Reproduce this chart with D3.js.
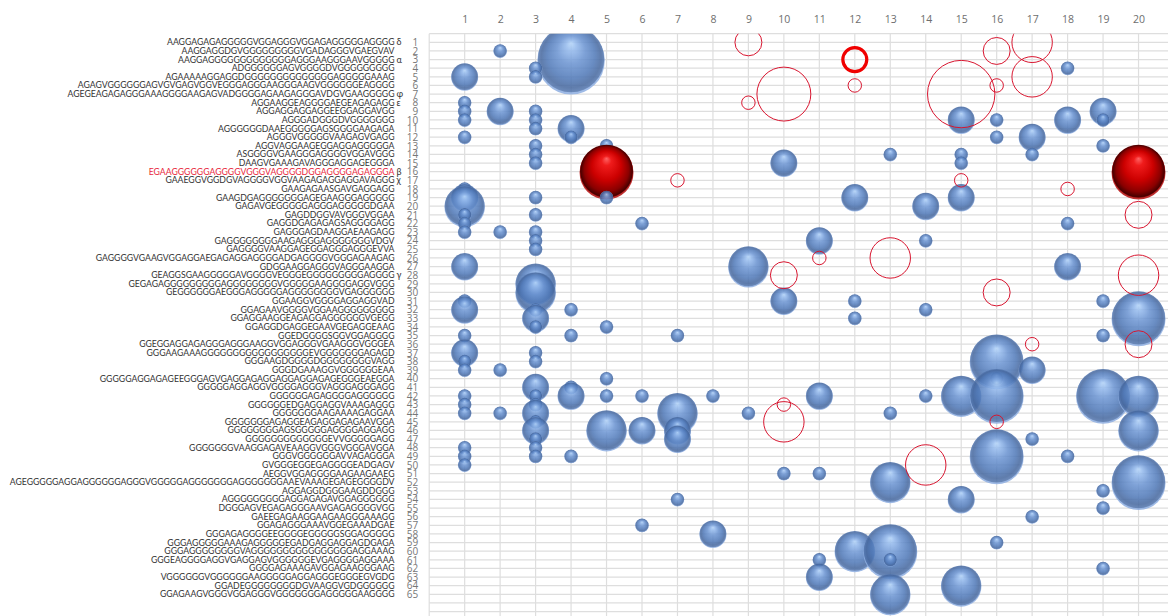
<!DOCTYPE html>
<html>
<head>
<meta charset="utf-8">
<script src="https://cdn.jsdelivr.net/npm/d3@7"></script>
<style>
	html, body { margin: 0; padding: 0; background: #fff; overflow: hidden; }
	text { font-family: Lato, "Open Sans", sans-serif; }
	.axis path, .axis line { display: none; }
	.axis text { fill: #6e6e6e; font-size: 10.5px; font-family: "Open Sans", sans-serif; }
	.axis.rows text { font-size: 10px; fill: #777; }
	.grid line { stroke: #dedede; stroke-width: 1.2; }
</style>
</head>
<body>
<svg width="1168" height="616"></svg>
<script>
var columns = d3.range(1, 21);

var sequences = [
	"AAGGAGAGAGGGGGVGGAGGGVGGAGAGGGGGAGGGG", "AAGGAGGDGVGGGGGGGGGVGADAGGGVGAEGVAV",
	"AAGGAGGGGGGGGGGGGGAGGGAAGGGAAVGGGGG", "ADGGGGGGAGVGGGGDVGGGGGGGGG",
	"AGAAAAAGGAGGDGGGGGGGGGGGGGGAGGGGGAAAG", "AGAGVGGGGGGAGVGVGAGVGGVEGGGAGGGAAGGGAAGVGGGGGGEAGGGG",
	"AGEGEAGAGAGGGAAAGGGGAAGAGVADGGGGAGAAGAGGGAVDGVGAAGGGGG", "AGGAAGGEAGGGGAEGEAGAGAGG",
	"AGGAGGAGGAGGEEGGAGGAVGG", "AGGGADGGGDVGGGGGGG",
	"AGGGGGGDAAEGGGGGAGSGGGGAAGAGA", "AGGGVGGGGGVAAGAGVGAGG",
	"AGGVAGGAAGEGGAGGAGGGGGA", "ASGGGGVGAAGGGAGGGGVGGAVGGG",
	"DAAGVGAAAGAVAGGGAGGAGEGGGA", "EGAAGGGGGGAGGGGVGGGVAGGGGDGGAGGGGAGAGGGA",
	"GAAEGGVGGDGVAGGGGVGGVAAGAGAGGAGGAVAGGG", "GAAGAGAASGAVGAGGAGG",
	"GAAGDGAGGGGGGGAGEGAAGGGAGGGGG", "GAGAVGEGGGGGAGGGAGGGGGDGAA",
	"GAGDDGGVAVGGGVGGAA", "GAGGDGAGAGAGSAGGGGAGG",
	"GAGGGAGDAAGGAEAAGAGG", "GAGGGGGGGGAAGAGGGAGGGGGGGVDGV",
	"GAGGGGVAAGGAGEGGAGGGAGGGEVVA", "GAGGGGVGAAGVGGAGGAEGAGAGGAGGGGADGAGGGGVGGGAGAAGAG",
	"GDGGAAGGAGGGVAGGGAAGGA", "GEAGGSGAAGGGGGAVGGGGVEGGGEGGGGGGGGGAGGGG",
	"GEGAGAGGGGGGGGGAGGGGGGGGVGGGGGAAGGGGAGGVGGG", "GEGGGGGGAEGGGAGGGGGAGGGGGGGGVGAGGGGGG",
	"GGAAGGVGGGGAGGAGGVAD", "GGAGAAVGGGGVGGAAGGGGGGGGG",
	"GGAGGAAGGEAGAGGAGGGGGGVGEGG", "GGAGGDGAGGEGAAVGEGAGGEAAG",
	"GGEDGGGGSGGVGGAGGGG", "GGEGGAGGAGAGGGAGGGAAGGVGGAGGGVGAAGGGVGGGEA",
	"GGGAAGAAAGGGGGGGGGGGGGGGGGEVGGGGGGGAGAGD", "GGGAAGDGGGGDGGGGGGGGVAGG",
	"GGGDGAAAGGVGGGGGGEAA", "GGGGGAGGAGAGEEGGGAGVGAGGAGAGGAGGAGGAGAGEGGGEAEGGA",
	"GGGGGAGGAGGVGGGGAGGGVAGGGAGGGAGG", "GGGGGGAGAGGGGAGGGGGG",
	"GGGGGGEDGAGGAGGVAAAGAGGG", "GGGGGGGAAGAAAAGAGGAA",
	"GGGGGGGAGAGGEAGAGGAGAGAAVGGA", "GGGGGGGGAGSGGGGGAGGGGAGGAGG",
	"GGGGGGGGGGGGGEVVGGGGGAGG", "GGGGGGGVAAGGAGAVEAAGGVGGGVGGGAVGGA",
	"GGGVGGGGGGAVVAGAGGGA", "GVGGGEGGEGAGGGGEADGAGV",
	"AEGGVGGAGGGGAAGAAGAAEG", "AGEGGGGGAGGAGGGGGGAGGGVGGGGGAGGGGGGGAGGGGGGGAAEVAAAGEGAGEGGGGDV",
	"AGGAGGDGGGAAGDDGGG", "AGGGGGGGGGAGGAGAGAVGGAGGGGGG",
	"DGGGAGVEGAGAGGGAAVGAGAGGGGVGG", "GAEEGAGAAGGAAGAAGGGAAAGG",
	"GGAGAGGGAAAVGGEGAAADGAE", "GGGAGAGGGGEEGGGGEGGGGGSGGAGGGGG",
	"GGGAGGGGGAAAGAGGGGGEGADGAGGAGGAGDGAGA", "GGGAGGGGGGGGVAGGGGGGGGGGGGGGGGAGGAAAG",
	"GGGEAGGGGAGGVGAGGAGVGGGGGGEVGAGGGGAGGAAA", "GGGGAGAAAGAVGGAGAAGGGAAG",
	"VGGGGGGVGGGGGGAAGGGGGAGGAGGGEGGGEGVGDG", "GGADEGGGGGGGGDGVAAGGVGDGGGGGG",
	"GGAGAAGVGGGVGGAGGGVGGGGGGGAGGGGGAAGGGG"
];

// row number -> greek letter shown next to the sequence
var greekRows = [1, 3, 7, 8, 16, 17, 28];
var greekLetters = ["δ", "α", "φ", "ε", "β", "χ", "γ"];
var highlightRow = 16;

// [column, row, value]
var blueBubbles = [
	[1,5,4],[1,8,1],[1,9,1],[1,10,1],[1,12,1],[1,18,1],[1,19,4],[1,20,9],[1,21,1],[1,22,1],[1,23,1],
	[1,27,4],[1,31,1],[1,32,4],[1,35,1],[1,37,4],[1,38,1],[1,39,1],[1,42,1],[1,43,1],[1,44,1],
	[1,48,1],[1,49,1],[1,50,1],
	[2,2,1],[2,9,4],[2,23,1],[2,39,1],[2,44,1],
	[3,4,1],[3,5,1],[3,9,1],[3,10,1],[3,11,1],[3,13,1],[3,14,1],[3,15,1],[3,19,1],[3,21,1],[3,23,1],
	[3,24,1],[3,25,1],[3,29,9],[3,30,9],[3,32,1],[3,33,4],[3,34,1],[3,37,1],[3,38,1],[3,41,4],[3,42,1],
	[3,43,1],[3,44,4],[3,45,1],[3,46,4],[3,47,1],[3,48,1],[3,49,1],
	[4,3,25],[4,11,4],[4,12,1],[4,32,1],[4,35,1],[4,41,1],[4,42,4],[4,49,1],
	[5,13,1],[5,19,1],[5,34,1],[5,40,1],[5,42,1],[5,46,9],
	[6,22,1],[6,42,1],[6,46,4],[6,57,1],
	[7,35,1],[7,44,9],[7,46,4],[7,47,4],[7,54,1],
	[8,42,1],[8,58,4],
	[9,27,9],[9,44,1],
	[10,15,4],[10,31,4],[10,51,1],
	[11,24,4],[11,42,4],[11,51,1],[11,61,1],[11,63,4],
	[12,19,4],[12,31,1],[12,33,1],[12,60,9],
	[13,14,1],[13,44,1],[13,52,9],[13,60,16],[13,61,1],[13,65,9],
	[14,20,4],[14,24,1],[14,32,1],[14,42,1],
	[15,10,4],[15,14,1],[15,15,1],[15,19,4],[15,42,9],[15,54,4],[15,64,9],
	[16,10,1],[16,12,1],[16,38,16],[16,40,1],[16,42,16],[16,49,16],[16,59,1],
	[17,12,4],[17,14,1],[17,39,4],[17,47,1],[17,56,1],
	[18,4,1],[18,10,4],[18,22,1],[18,27,4],[18,49,1],
	[19,9,4],[19,10,1],[19,13,1],[19,31,1],[19,35,1],[19,42,16],[19,53,1],[19,55,1],[19,62,1],
	[20,33,16],[20,42,9],[20,46,9],[20,52,16]
];

var redBalls = [[5,16,16],[20,16,16]];

var redRings = [
	[7,17,1],[9,1,4],[9,8,1],[10,7,16],[10,28,4],[10,43,1],[10,45,9],[11,26,1],
	[12,6,1],[13,26,9],[14,50,9],[15,7,25],[15,17,1],[16,2,4],[16,6,1],[16,30,4],[16,45,1],
	[17,1,9],[17,5,9],[17,36,1],[18,18,1],[20,21,4],[20,28,9],[20,36,4]
];
var heavyRings = [[12,3,4]];

(function(){

	var svg = d3.select("svg"),
		defs = svg.append("defs");

	var x = d3.scaleLinear().domain([0, 21]).range([429.2, 1174]),
		y = d3.scaleLinear().domain([0, 68]).range([33.7, 620.2]),
		r = d3.scaleSqrt().domain([0, 25]).range([0, 33.7]);

	function addBallGradient(id, stops){
		var g = defs.append("radialGradient")
			.attr("id", id)
			.attr("cx", "50%").attr("cy", "50%").attr("r", "50%")
			.attr("fx", "50%").attr("fy", "26%");
		stops.forEach(function(s){
			g.append("stop").attr("offset", s[0]).attr("stop-color", s[1]);
		});
	}
	addBallGradient("blueBall", [
		["0%", "#b4d5fa"], ["16%", "#92b8ec"], ["42%", "#6a93d1"],
		["72%", "#5079b8"], ["90%", "#46689f"], ["100%", "#5578b0"]
	]);
	addBallGradient("redBall", [
		["0%", "#ff6464"], ["18%", "#f01c1c"], ["55%", "#cc0000"],
		["84%", "#8a0000"], ["97%", "#4a0000"], ["100%", "#7a0000"]
	]);

	defs.append("clipPath").attr("id", "plot")
		.append("rect")
		.attr("x", x(0)).attr("y", y(0))
		.attr("width", 1168 - x(0)).attr("height", 616 - y(0));

	// grid
	var grid = svg.append("g").attr("class", "grid");
	grid.selectAll(".h")
		.data(d3.range(0, 68))
		.enter().append("line")
			.attr("x1", x(0)).attr("x2", 1168)
			.attr("y1", function(d){return y(d);})
			.attr("y2", function(d){return y(d);});
	grid.selectAll(".v")
		.data(d3.range(0, 21))
		.enter().append("line")
			.attr("x1", function(d){return x(d);})
			.attr("x2", function(d){return x(d);})
			.attr("y1", y(0)).attr("y2", 616);

	// axes
	svg.append("g")
		.attr("class", "axis")
		.attr("transform", "translate(0," + y(0) + ")")
		.call(d3.axisTop(x).tickValues(columns).tickFormat(d3.format("d")).tickSize(0).tickPadding(11));

	svg.append("g")
		.attr("class", "axis rows")
		.attr("transform", "translate(" + x(0) + ",0)")
		.call(d3.axisLeft(y).tickValues(d3.range(1, 66)).tickFormat(d3.format("d")).tickSize(0).tickPadding(11));

	// sequence labels
	svg.append("g").selectAll("text")
		.data(sequences)
		.enter().append("text")
			.attr("x", 394.5)
			.attr("y", function(d, i){return y(i + 1);})
			.attr("dy", "0.34em")
			.attr("text-anchor", "end")
			.style("font-size", "8.7px")
			.attr("fill", function(d, i){return i + 1 == highlightRow ? "#e8283c" : "#333";})
			.text(function(d){return d;});

	svg.append("g").selectAll("text")
		.data(greekRows)
		.enter().append("text")
			.attr("x", 396.5)
			.attr("y", function(d){return y(d);})
			.attr("dy", "0.34em")
			.style("font-size", "9px")
			.attr("fill", "#333")
			.text(function(d, i){return greekLetters[i];});

	// bubbles, filled ones stacked by row
	var balls = blueBubbles.map(function(d){return {c: d[0], w: d[1], v: d[2], fill: "url(#blueBall)", rim: "#8fafe2", o: 0.86};})
		.concat(redBalls.map(function(d){return {c: d[0], w: d[1], v: d[2], fill: "url(#redBall)", rim: "#c03030", o: 1};}));
	balls.sort(function(a, b){return d3.ascending(a.w, b.w);});

	var plot = svg.append("g").attr("clip-path", "url(#plot)");

	var ball = plot.selectAll(".ball")
		.data(balls)
		.enter().append("g")
			.attr("class", "ball")
			.attr("transform", function(d){return "translate(" + x(d.c) + "," + y(d.w) + ")";})
			.attr("opacity", function(d){return d.o;});

	// light rim at the foot of each ball
	ball.append("circle")
		.attr("cy", function(d){return r(d.v) * 0.035;})
		.attr("r", function(d){return r(d.v);})
		.attr("fill", function(d){return d.rim;});

	ball.append("circle")
		.attr("cy", function(d){return -r(d.v) * 0.015;})
		.attr("r", function(d){return r(d.v) * 0.985;})
		.attr("fill", function(d){return d.fill;});

	plot.selectAll(".ring")
		.data(redRings)
		.enter().append("circle")
			.attr("class", "ring")
			.attr("cx", function(d){return x(d[0]);})
			.attr("cy", function(d){return y(d[1]);})
			.attr("r", function(d){return r(d[2]);})
			.attr("fill", "none")
			.attr("stroke", "#d8152f")
			.attr("stroke-width", 1);

	plot.selectAll(".heavy")
		.data(heavyRings)
		.enter().append("circle")
			.attr("class", "heavy")
			.attr("cx", function(d){return x(d[0]);})
			.attr("cy", function(d){return y(d[1]);})
			.attr("r", function(d){return r(d[2]) - 1.5;})
			.attr("fill", "none")
			.attr("stroke", "#f00000")
			.attr("stroke-width", 3.2);

})();
</script>
</body>
</html>
